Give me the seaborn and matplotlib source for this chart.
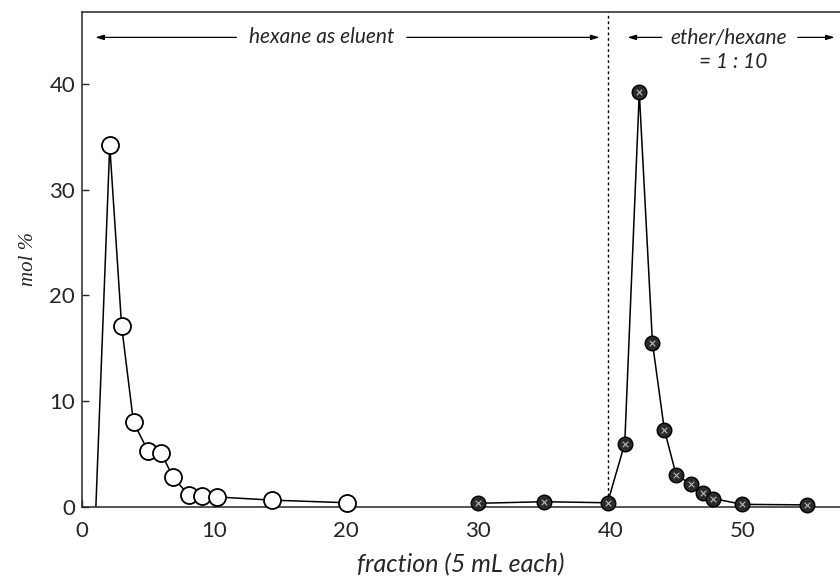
import matplotlib
matplotlib.use("Agg")
import matplotlib.pyplot as plt
import seaborn as sns
import pandas as pd

# ---- data ----
hex_x = [2.1, 3.0, 3.9, 5.0, 6.0, 6.9, 8.1, 9.1, 10.2, 14.4, 20.1]
hex_y = [34.2, 17.1, 8.0, 5.3, 5.1, 2.8, 1.1, 1.0, 0.95, 0.65, 0.4]
hex_start_x = [1.05]
hex_start_y = [0.0]

eth_x = [30, 35, 39.8, 41.1, 42.2, 43.2, 44.1, 45.0, 46.1, 47.0, 47.8, 50.0, 54.9]
eth_y = [0.35, 0.5, 0.4, 6.0, 39.2, 15.5, 7.3, 3.0, 2.2, 1.3, 0.8, 0.25, 0.2]

x_ticks = [0, 10, 20, 30, 40, 50]
y_ticks = [0, 10, 20, 30, 40]
x_label = "fraction (5 mL each)"
y_label = "mol %"
label_left = "hexane as eluent"
label_right = "ether/hexane"
label_right2 = "= 1 : 10"
divider_x = 39.85

sns.set_style("ticks")
plt.rcParams["font.family"] = ["Lato", "DejaVu Sans"]

hex_line = pd.DataFrame({"x": hex_start_x + hex_x, "y": hex_start_y + hex_y})
hex_pts = pd.DataFrame({"x": hex_x, "y": hex_y})
eth_df = pd.DataFrame({"x": eth_x, "y": eth_y})

fig = plt.figure(figsize=(8.4, 5.8), dpi=100)
ax = fig.add_axes([82 / 840, 1 - 507 / 580, 1 - 82 / 840, (507 - 12) / 580])

sns.lineplot(data=hex_line, x="x", y="y", ax=ax, color="black", lw=1.1,
             sort=False, zorder=2)
sns.scatterplot(data=hex_pts, x="x", y="y", ax=ax, s=150, facecolor="white",
                edgecolor="black", linewidth=1.3, zorder=3, clip_on=False)

sns.lineplot(data=eth_df, x="x", y="y", ax=ax, color="black", lw=1.1,
             sort=False, zorder=2)
sns.scatterplot(data=eth_df, x="x", y="y", ax=ax, s=110, facecolor="#2b2b2b",
                edgecolor="black", linewidth=1.0, zorder=3, clip_on=False)
sns.scatterplot(data=eth_df, x="x", y="y", ax=ax, s=16, marker="x",
                color="#bbbbbb", linewidth=0.8, zorder=4, clip_on=False)

ax.axvline(divider_x, color="black", lw=1.0, ls=(0, (2, 2)), zorder=1)

ax.set_xlim(0, 57.4)
ax.set_ylim(0, 46.8)
ax.set_xticks(x_ticks)
ax.set_yticks(y_ticks)
ax.tick_params(direction="in", length=5, width=1, labelsize=16)
ax.tick_params(axis="x", pad=10)
ax.tick_params(axis="y", pad=5)
ax.set_xlabel(x_label, fontsize=18, style="italic", labelpad=9)
ax.set_ylabel(y_label, fontsize=15, style="italic", labelpad=8,
              family=["Liberation Serif", "DejaVu Serif"])
for s in ["left", "bottom", "top"]:
    ax.spines[s].set_linewidth(1.1)
ax.spines["right"].set_visible(False)

ya = 44.4
ap = dict(arrowstyle="-|>,head_length=0.5,head_width=0.15", color="black",
          lw=0.9, shrinkA=0, shrinkB=0)
ax.annotate("", xy=(1.0, ya), xytext=(11.7, ya), arrowprops=ap)
ax.annotate("", xy=(39.2, ya), xytext=(24.6, ya), arrowprops=ap)
ax.text(18.15, ya, label_left, ha="center", va="center", fontsize=15,
        style="italic")
ax.annotate("", xy=(41.3, ya), xytext=(43.9, ya), arrowprops=ap)
ax.annotate("", xy=(57.0, ya), xytext=(54.2, ya), arrowprops=ap)
ax.text(49.0, ya, label_right, ha="center", va="center", fontsize=15,
        style="italic")
ax.text(49.3, 42.1, label_right2, ha="center", va="center", fontsize=15,
        style="italic")

fig.savefig("out.png", dpi=100)
